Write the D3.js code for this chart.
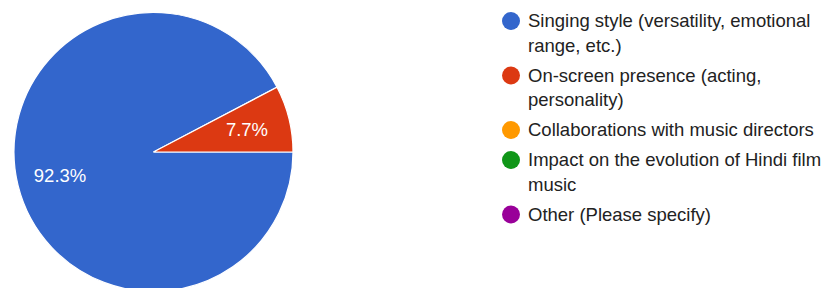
<!DOCTYPE html>
<html>
<head>
<meta charset="utf-8">
<script src="https://cdn.jsdelivr.net/npm/d3@7"></script>
<style>
  html, body { margin: 0; padding: 0; background: #fff; }
  svg { display: block; }
</style>
</head>
<body>
<svg id="chart" width="828" height="288"></svg>
<script>
const categories = [
  "Singing style (versatility, emotional range, etc.)",
  "On-screen presence (acting, personality)",
  "Collaborations with music directors",
  "Impact on the evolution of Hindi film music",
  "Other (Please specify)"
];
const counts = [12, 1, 0, 0, 0];
const colors = ["#3366cc", "#dc3912", "#ff9900", "#109618", "#990099"];

const svg = d3.select("#chart");
const font = "Arial, 'Liberation Sans', sans-serif";
const cx = 153.5, cy = 152, R = 139.5;

const total = d3.sum(counts);
const data = categories.map((c, i) => ({ name: c, value: counts[i], color: colors[i] }));

const pie = d3.pie().value(d => d.value).sort(null)
  .startAngle(Math.PI / 2).endAngle(Math.PI / 2 + 2 * Math.PI);
const arcs = pie(data).filter(d => d.data.value > 0);
const arc = d3.arc().innerRadius(0).outerRadius(R);
const labelArc = d3.arc().innerRadius(R * 0.69).outerRadius(R * 0.69);

const g = svg.append("g").attr("transform", `translate(${cx},${cy})`);
g.selectAll("path").data(arcs).join("path")
  .attr("d", arc)
  .attr("fill", d => d.data.color)
  .attr("stroke", "#fff")
  .attr("stroke-width", 1.2);

const fmt = v => (v / total * 100).toFixed(1) + "%";
g.selectAll("text.lbl").data(arcs).join("text")
  .attr("class", "lbl")
  .attr("transform", d => `translate(${labelArc.centroid(d)})`)
  .attr("text-anchor", "middle")
  .attr("dy", "0.36em")
  .attr("font-family", font)
  .attr("font-size", 18.5)
  .attr("fill", "#fff")
  .text(d => fmt(d.data.value));

// Legend
const lx = 511, tx = 528, maxW = 298, lineH = 24.5, itemGap = 30;
let baseline = 27.3;
const legend = svg.append("g");
data.forEach((d, i) => {
  const item = legend.append("g");
  item.append("circle")
    .attr("cx", lx).attr("cy", baseline - 6.3).attr("r", 9)
    .attr("fill", d.color);
  const text = item.append("text")
    .attr("x", tx).attr("y", baseline)
    .attr("font-family", font).attr("font-size", 18.5)
    .attr("fill", "#222");
  const words = d.name.split(" ");
  let line = [];
  let tspan = text.append("tspan").attr("x", tx).attr("y", baseline);
  let lines = 1;
  words.forEach(w => {
    line.push(w);
    tspan.text(line.join(" "));
    if (tspan.node().getComputedTextLength() > maxW && line.length > 1) {
      line.pop();
      tspan.text(line.join(" "));
      line = [w];
      tspan = text.append("tspan").attr("x", tx)
        .attr("y", baseline + lines * lineH).text(w);
      lines++;
    }
  });
  baseline += (lines - 1) * lineH + itemGap;
});
</script>
</body>
</html>
